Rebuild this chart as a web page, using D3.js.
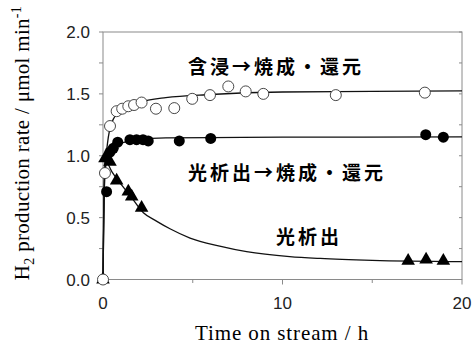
<!DOCTYPE html>
<head>
<style>
body { margin: 0; background: #fff; }
svg { font-family: Arial, "Liberation Sans", sans-serif; }
.cjk { font-family: "Noto Sans CJK JP", sans-serif; font-weight: bold; font-size: 19px; letter-spacing: 3px; }
</style>
<script src="https://d3js.org/d3.v7.min.js"></script>
</head>
<body>
<svg id="chart" width="473" height="345"></svg>
<script>

// measured points: [time (h), rate (umol/min)]
var impregPts = [[0,0],[0.11,0.86],[0.39,1.24],[0.76,1.36],[1.07,1.38],[1.41,1.40],[1.73,1.41],
  [2.15,1.43],[2.95,1.38],[3.97,1.385],[4.97,1.46],[5.96,1.49],[6.98,1.56],[7.95,1.52],
  [8.93,1.50],[12.97,1.49],[17.93,1.51]];
var photoCalcPts = [[0.2,0.71],[0.39,1.03],[0.57,1.06],[0.82,1.11],[1.5,1.13],[1.87,1.13],
  [2.23,1.13],[2.52,1.12],[4.25,1.12],[6.0,1.14],[17.98,1.17],[18.96,1.15]];
var photoPts = [[0,0],[0.11,0.98],[0.39,0.95],[0.76,0.80],[1.41,0.71],[1.6,0.67],[2.15,0.58],
  [17.0,0.15],[18.0,0.16],[18.96,0.15]];

// fitted curves as they appear in the picture
var impregFit = [[0,0],[0.1,0.85],[0.25,1.1],[0.5,1.27],[1,1.37],[2,1.43],[3.5,1.47],
  [6,1.495],[10,1.515],[15,1.52],[20,1.525]];
var photoCalcFit = [[0,0],[0.1,0.86],[0.3,1.0],[0.6,1.07],[1,1.1],[2,1.13],[3.5,1.145],
  [6,1.147],[10,1.15],[20,1.152]];
var photoFit = [[0,0],[0.08,0.97],[0.5,0.87],[1,0.77],[1.5,0.68],[2.25,0.54],[3,0.47],
  [3.73,0.41],[4.85,0.335],[6.5,0.27],[8,0.225],[10.4,0.185],[12.1,0.17],[15,0.155],[20,0.145]];

var xTicks = [0, 10, 20];
var xMinor = [5, 15];
var yTicks = [0, 0.5, 1.0, 1.5, 2.0];
var yMinor = d3.range(0, 2.01, 0.25);

var labels = ["含浸→焼成・還元", "光析出→焼成・還元", "光析出"];

var svg = d3.select("#chart");
var x = d3.scaleLinear().domain([0, 20]).range([103, 462]);
var y = d3.scaleLinear().domain([0, 2]).range([279.5, 32]);

// frame
var frame = "#8a8a8a";
svg.append("rect").attr("x", x(0)).attr("y", y(2)).attr("width", x(20) - x(0)).attr("height", y(0) - y(2))
  .attr("fill", "none").attr("stroke", frame);

// x axis ticks (outward)
svg.selectAll(".xt").data(xTicks.concat(xMinor)).enter().append("line")
  .attr("x1", d => x(d)).attr("x2", d => x(d))
  .attr("y1", y(0)).attr("y2", d => y(0) + (xTicks.indexOf(d) >= 0 ? 5 : 3.5))
  .attr("stroke", frame);
svg.selectAll(".xl").data(xTicks).enter().append("text")
  .attr("x", d => x(d)).attr("y", 309).attr("text-anchor", "middle")
  .attr("font-size", 17).attr("fill", "#222").text(d => d);

// y axis ticks left (outward) and right (inward)
svg.selectAll(".yt").data(yMinor).enter().append("line")
  .attr("x1", x(0) - 4).attr("x2", x(0)).attr("y1", d => y(d)).attr("y2", d => y(d))
  .attr("stroke", frame);
svg.selectAll(".yr").data(yMinor).enter().append("line")
  .attr("x1", x(20) - 3).attr("x2", x(20)).attr("y1", d => y(d)).attr("y2", d => y(d))
  .attr("stroke", frame);
svg.selectAll(".yl").data(yTicks).enter().append("text")
  .attr("x", 90).attr("y", d => y(d) + 6).attr("text-anchor", "end")
  .attr("font-size", 17).attr("fill", "#222").text(d => d.toFixed(1));

// axis titles
svg.append("text").attr("x", 282).attr("y", 340).attr("text-anchor", "middle")
  .attr("font-family", "'Liberation Serif', serif").attr("font-size", 21).attr("letter-spacing", 0.9)
  .text("Time on stream / h");

var yt = svg.append("text").attr("transform", "translate(29,143) rotate(-90)")
  .attr("text-anchor", "middle").attr("font-family", "'Liberation Serif', serif").attr("font-size", 21)
  .attr("letter-spacing", 0.3);
yt.append("tspan").text("H");
yt.append("tspan").attr("font-size", 14).attr("dy", 5).text("2");
yt.append("tspan").attr("dy", -5).text(" production rate / μmol min");
yt.append("tspan").attr("font-size", 14).attr("dy", -8).text("-1");

// fit lines
var line = d3.line().x(d => x(d[0])).y(d => y(d[1])).curve(d3.curveMonotoneX);
[photoFit, photoCalcFit, impregFit].forEach(function(f) {
  svg.append("path").attr("d", line(f)).attr("fill", "none").attr("stroke", "#111").attr("stroke-width", 1.3);
});

// markers
var tri = d3.symbol().type(d3.symbolTriangle).size(80);
svg.selectAll(".tri").data(photoPts).enter().append("path")
  .attr("d", tri).attr("transform", d => "translate(" + x(d[0]) + "," + y(d[1]) + ")")
  .attr("fill", "#000");
svg.selectAll(".fc").data(photoCalcPts).enter().append("circle")
  .attr("cx", d => x(d[0])).attr("cy", d => y(d[1])).attr("r", 5.5).attr("fill", "#000");
svg.selectAll(".oc").data(impregPts).enter().append("circle")
  .attr("cx", d => x(d[0])).attr("cy", d => y(d[1])).attr("r", 5.5)
  .attr("fill", "#fff").attr("stroke", "#333").attr("stroke-width", 0.9);

// series labels
svg.append("text").attr("class", "cjk").attr("x", 188).attr("y", 74).text(labels[0]);
svg.append("text").attr("class", "cjk").attr("x", 188).attr("y", 180).text(labels[1]);
svg.append("text").attr("class", "cjk").attr("x", 276).attr("y", 244).text(labels[2]);

</script>
</body>
</html>
